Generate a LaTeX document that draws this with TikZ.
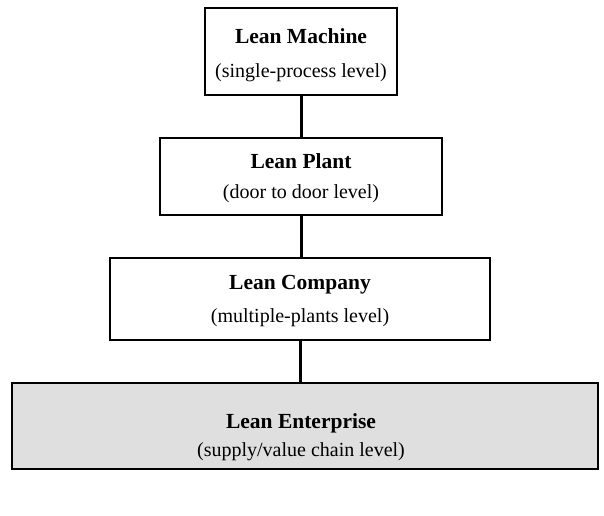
\documentclass[tikz,border=0pt]{standalone}
\usepackage{fontspec}
\setmainfont{Liberation Serif}
\begin{document}
\begin{tikzpicture}[x=1pt,y=-1pt,
  box/.style={draw=black, line width=1.5pt, fill=white, inner sep=0pt},
  ttl/.style={align=center, font=\fontsize{21.5}{24}\selectfont\bfseries},
  sub/.style={align=center, font=\fontsize{20}{23}\selectfont},
  conn/.style={line width=3pt}]
\useasboundingbox (0,0) rectangle (604,515);
\node[box, minimum width=192pt, minimum height=87pt] (m) at (301,51.5) {};
\node[box, minimum width=282pt, minimum height=77pt] (p) at (301,176.5) {};
\node[box, minimum width=380pt, minimum height=82pt] (c) at (300,299) {};
\node[box, fill=gray!25, minimum width=586pt, minimum height=86pt] (e) at (305,426) {};
\draw[conn] (m.south) -- (m.south |- p.north);
\draw[conn] (p.south) -- (p.south |- c.north);
\draw[conn] (c.south) -- (c.south |- e.north);
\node[ttl] (mt) at (301,36) {Lean Machine};
\node[sub] (ms) at (301,73) {(single-process level)};
\node[ttl] (pt) at (301,161) {Lean Plant};
\node[sub] (ps) at (301,194) {(door to door level)};
\node[ttl] (ct) at (300,285) {Lean Company};
\node[sub] (cs) at (300,318) {(multiple-plants level)};
\node[ttl] (et) at (301,423) {Lean Enterprise};
\node[sub] (es) at (301,452) {(supply/value chain level)};
\end{tikzpicture}
\end{document}
